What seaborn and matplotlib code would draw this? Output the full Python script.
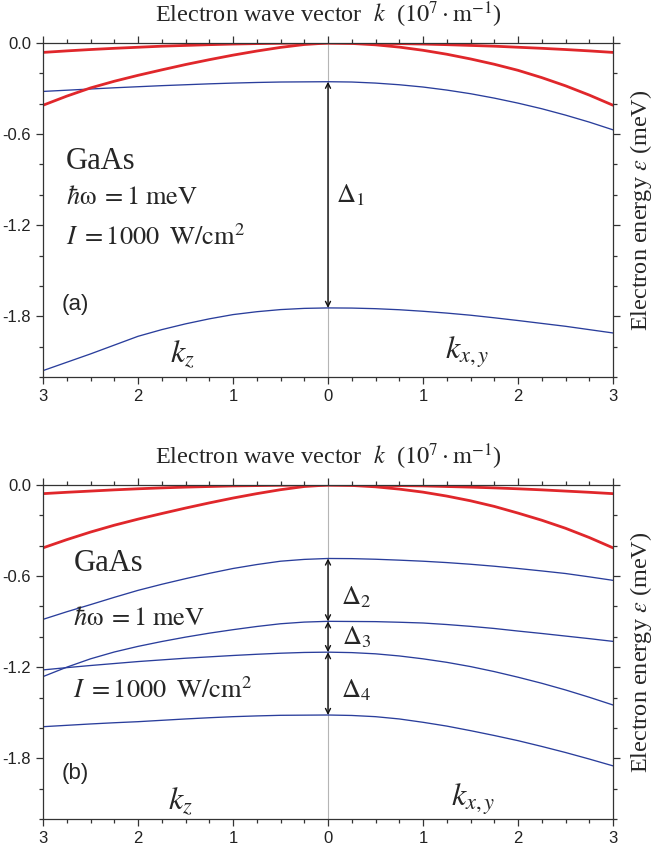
import numpy as np
import pandas as pd
import matplotlib
matplotlib.use("Agg")
import matplotlib.pyplot as plt
import seaborn as sns
from matplotlib.ticker import MultipleLocator, FixedLocator, FixedFormatter

# ---------------- data ----------------
k = [-3.0, -2.75, -2.5, -2.25, -2.0, -1.75, -1.5, -1.25, -1.0, -0.75, -0.5, -0.25, 0.0,
     0.25, 0.5, 0.75, 1.0, 1.25, 1.5, 1.75, 2.0, 2.25, 2.5, 2.75, 3.0]

# panel (a)
a_red_flat  = [-0.062, -0.052, -0.043, -0.035, -0.028, -0.021, -0.016, -0.011, -0.007, -0.004, -0.002, -0.0004, 0.0,
               -0.0004, -0.002, -0.004, -0.007, -0.011, -0.016, -0.021, -0.028, -0.035, -0.043, -0.052, -0.062]
a_red_steep = [-0.410, -0.350, -0.296, -0.252, -0.213, -0.177, -0.142, -0.110, -0.080, -0.053, -0.029, -0.010, 0.0,
               -0.003, -0.012, -0.027, -0.048, -0.074, -0.105, -0.140, -0.180, -0.228, -0.282, -0.343, -0.410]
a_blue_1    = [-0.319, -0.311, -0.303, -0.295, -0.288, -0.281, -0.275, -0.269, -0.264, -0.260, -0.257, -0.256, -0.255,
               -0.257, -0.264, -0.275, -0.290, -0.310, -0.334, -0.363, -0.396, -0.433, -0.475, -0.521, -0.572]
a_blue_2    = [-2.158, -2.103, -2.048, -1.990, -1.932, -1.888, -1.850, -1.817, -1.789, -1.770, -1.756, -1.748, -1.745,
               -1.746, -1.750, -1.757, -1.767, -1.779, -1.793, -1.810, -1.828, -1.847, -1.866, -1.888, -1.910]

# panel (b)
b_red_flat  = [-0.057, -0.048, -0.040, -0.032, -0.025, -0.019, -0.014, -0.010, -0.006, -0.004, -0.002, -0.0004, 0.0,
               -0.0004, -0.002, -0.004, -0.006, -0.010, -0.014, -0.019, -0.025, -0.032, -0.040, -0.048, -0.057]
b_red_steep = [-0.414, -0.360, -0.310, -0.265, -0.225, -0.188, -0.152, -0.118, -0.086, -0.057, -0.031, -0.010, 0.0,
               -0.003, -0.012, -0.027, -0.047, -0.073, -0.104, -0.141, -0.185, -0.232, -0.285, -0.346, -0.414]
b_blue_1    = [-0.885, -0.835, -0.788, -0.740, -0.694, -0.654, -0.617, -0.582, -0.550, -0.524, -0.502, -0.490, -0.484,
               -0.485, -0.489, -0.495, -0.502, -0.511, -0.522, -0.535, -0.550, -0.566, -0.583, -0.605, -0.628]
b_blue_2    = [-1.262, -1.200, -1.145, -1.100, -1.063, -1.031, -1.002, -0.976, -0.953, -0.932, -0.914, -0.903, -0.898,
               -0.899, -0.900, -0.904, -0.909, -0.919, -0.931, -0.945, -0.962, -0.978, -0.995, -1.012, -1.030]
b_blue_3    = [-1.218, -1.203, -1.189, -1.176, -1.163, -1.152, -1.141, -1.132, -1.123, -1.115, -1.108, -1.103, -1.101,
               -1.104, -1.112, -1.126, -1.145, -1.168, -1.196, -1.229, -1.266, -1.306, -1.350, -1.398, -1.449]
b_blue_4    = [-1.592, -1.583, -1.574, -1.566, -1.559, -1.550, -1.541, -1.533, -1.526, -1.521, -1.517, -1.516, -1.515,
               -1.518, -1.526, -1.541, -1.563, -1.588, -1.618, -1.650, -1.684, -1.722, -1.762, -1.805, -1.850]

x_tick_pos = [-3, -2, -1, 0, 1, 2, 3]
x_tick_labels = ["3", "2", "1", "0", "1", "2", "3"]
y_tick_pos = [0.0, -0.6, -1.2, -1.8]
y_tick_labels = ["0.0", "-0.6", "-1.2", "-1.8"]

title_text = r"Electron wave vector  $k$  ($10^{7}\cdot\mathrm{m}^{-1}$)"
ylabel_text = r"Electron energy $\varepsilon$ (meV)"
gaas_text = "GaAs"
hw_text = r"$\hbar\mathrm{\omega}\;=1\;\mathrm{meV}$"
int_text = r"$I\;=1000\;\;\mathrm{W/cm}^{2}$"

# ---------------- style ----------------
sns.set_theme(style="ticks")
plt.rcParams["font.family"] = ["Liberation Serif", "DejaVu Serif"]
plt.rcParams["mathtext.fontset"] = "stix"
plt.rcParams["axes.unicode_minus"] = False

RED = "#e0272b"
BLUE = "#2a3e9c"
W, H = 653, 848
fig = plt.figure(figsize=(W / 100, H / 100), dpi=100)
fig.patch.set_facecolor("white")


def make_axes(top_px, bot_px):
    left, right = 43, 613
    return fig.add_axes([left / W, 1 - bot_px / H, (right - left) / W, (bot_px - top_px) / H])


def style_axes(ax):
    ax.set_xlim(-3, 3)
    ax.set_ylim(-2.2, 0.0)
    ax.set_facecolor("white")
    ax.axvline(0, color="#b5b5b5", lw=0.8, zorder=0)
    ax.xaxis.set_major_locator(FixedLocator(x_tick_pos))
    ax.xaxis.set_major_formatter(FixedFormatter(x_tick_labels))
    ax.xaxis.set_minor_locator(MultipleLocator(0.25))
    ax.yaxis.set_major_locator(FixedLocator(y_tick_pos))
    ax.yaxis.set_major_formatter(FixedFormatter(y_tick_labels))
    ax.yaxis.set_minor_locator(MultipleLocator(0.2))
    ax.tick_params(which="both", direction="out", top=True, right=True,
                   labeltop=False, labelright=False, color="#333333", width=0.9)
    ax.tick_params(which="major", length=5)
    ax.tick_params(which="minor", length=3)
    for lab in ax.get_xticklabels() + ax.get_yticklabels():
        lab.set_family(["Liberation Sans", "DejaVu Sans"])
        lab.set_fontsize(12)
        lab.set_color("#222222")
    for sp in ax.spines.values():
        sp.set_color("#333333")
        sp.set_linewidth(0.9)
    ax.set_xlabel("")
    ax.set_ylabel("")
    ax.text(0.5, 1 + 28 / 334, title_text, transform=ax.transAxes,
            ha="center", va="center", fontsize=17.5)
    ax.text(1 + 28 / 570, 0.5, ylabel_text, transform=ax.transAxes,
            ha="center", va="center", rotation=90, fontsize=17.5)


def draw_curve(ax, ys, color, lw):
    df = pd.DataFrame({"k": k, "E": ys})
    sns.lineplot(data=df, x="k", y="E", ax=ax, color=color, lw=lw, sort=False)


def arrow(ax, y_top, y_bot):
    ax.annotate("", xy=(0, y_bot), xytext=(0, y_top),
                arrowprops=dict(arrowstyle="<->", color="#111111", lw=1.0,
                                shrinkA=0, shrinkB=0, mutation_scale=9))


i0 = k.index(0.0)

# ---------------- panel (a) ----------------
ax_a = make_axes(43, 377)
for ys in (a_blue_1, a_blue_2):
    draw_curve(ax_a, ys, BLUE, 0.95)
for ys in (a_red_flat, a_red_steep):
    draw_curve(ax_a, ys, RED, 2.0)
arrow(ax_a, a_blue_1[i0], a_blue_2[i0])
ax_a.text(0.24, -1.0, r"$\Delta_1$", fontsize=19, ha="center", va="center")
ax_a.text(-2.76, -0.78, gaas_text, fontsize=22, ha="left", va="center")
ax_a.text(-2.76, -1.02, hw_text, fontsize=19, ha="left", va="center")
ax_a.text(-2.76, -1.28, int_text, fontsize=19, ha="left", va="center")
ax_a.text(-2.8, -1.72, "(a)", fontsize=16, ha="left", va="center",
          family=["Liberation Sans", "DejaVu Sans"])
ax_a.text(-1.53, -2.05, r"$k_z$", fontsize=23, ha="center", va="center")
ax_a.text(1.47, -2.04, r"$k_{x,y}$", fontsize=23, ha="center", va="center")
style_axes(ax_a)

# ---------------- panel (b) ----------------
ax_b = make_axes(485, 819)
for ys in (b_blue_1, b_blue_2, b_blue_3, b_blue_4):
    draw_curve(ax_b, ys, BLUE, 0.95)
for ys in (b_red_flat, b_red_steep):
    draw_curve(ax_b, ys, RED, 2.0)
arrow(ax_b, b_blue_1[i0], b_blue_2[i0])
arrow(ax_b, b_blue_2[i0], b_blue_3[i0])
arrow(ax_b, b_blue_3[i0], b_blue_4[i0])
ax_b.text(0.3, -0.74, r"$\Delta_2$", fontsize=19, ha="center", va="center")
ax_b.text(0.3, -1.0, r"$\Delta_3$", fontsize=19, ha="center", va="center")
ax_b.text(0.3, -1.35, r"$\Delta_4$", fontsize=19, ha="center", va="center")
ax_b.text(-2.68, -0.52, gaas_text, fontsize=22, ha="left", va="center")
ax_b.text(-2.68, -0.88, hw_text, fontsize=19, ha="left", va="center")
ax_b.text(-2.68, -1.35, int_text, fontsize=19, ha="left", va="center")
ax_b.text(-2.8, -1.9, "(b)", fontsize=16, ha="left", va="center",
          family=["Liberation Sans", "DejaVu Sans"])
ax_b.text(-1.55, -2.08, r"$k_z$", fontsize=23, ha="center", va="center")
ax_b.text(1.53, -2.07, r"$k_{x,y}$", fontsize=23, ha="center", va="center")
style_axes(ax_b)

fig.savefig("out.png", dpi=100, facecolor="white")
